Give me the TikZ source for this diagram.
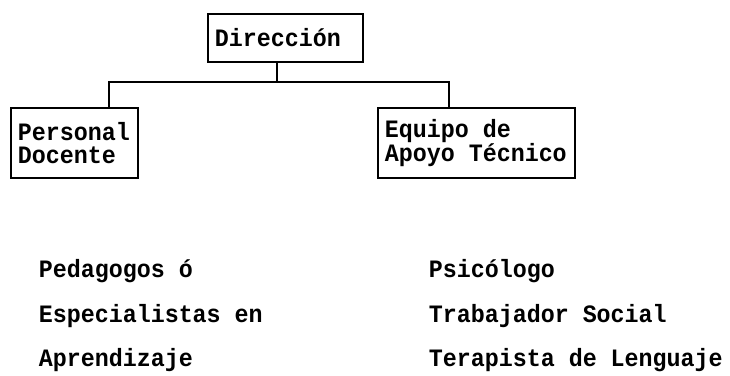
\documentclass[tikz,border=0pt]{standalone}
\usepackage{fontspec}
\setmainfont{Liberation Mono}[FakeStretch=0.933]
\begin{document}
\begin{tikzpicture}[
        x=1bp, y=-1bp,
        line width=1.6bp,
        every node/.style={font=\bfseries\fontsize{25bp}{23bp}\selectfont}
    ]
    %\usetikzlibrary{positioning}

    \tikzstyle{box} = [
        draw,
        anchor = north west,
        align = left,
        inner xsep = 7bp,
        inner ysep = 0pt,
        execute at begin node = {\spaceskip=14bp\relax}
    ]
    \tikzstyle{staff} = [
        anchor = base west,
        inner sep = 0pt
    ]

    \useasboundingbox (0,0) rectangle (730,375);

    \node [box, text width=141bp, minimum height=48bp] (direccion) at (207,13) {Dirección};
    \node [box, text width=113bp, minimum height=70bp] (personal) at (10,107) {Personal\\Docente};
    \node [box, text width=183bp, minimum height=70bp] (equipo) at (377,107) {Equipo de\\Apoyo Técnico};

    \coordinate (bus) at (277,82);
    \path (personal.north west) ++(99,0) coordinate (dropP);
    \path (equipo.north west) ++(72,0) coordinate (dropE);
    \draw (direccion.south -| bus) -- (bus);
    \draw (dropP) |- (bus) -| (dropE);

    \node [staff] (pedagogos) at (38,277) {Pedagogos ó};
    \node [staff] (especialistas) at (38,322) {Especialistas en};
    \node [staff] (aprendizaje) at (38,366) {Aprendizaje};
    \node [staff] (psicologo) at (428,277) {Psicólogo};
    \node [staff] (trabajador) at (428,322) {Trabajador Social};
    \node [staff] (terapista) at (428,366) {Terapista de Lenguaje};
\end{tikzpicture}
\end{document}
